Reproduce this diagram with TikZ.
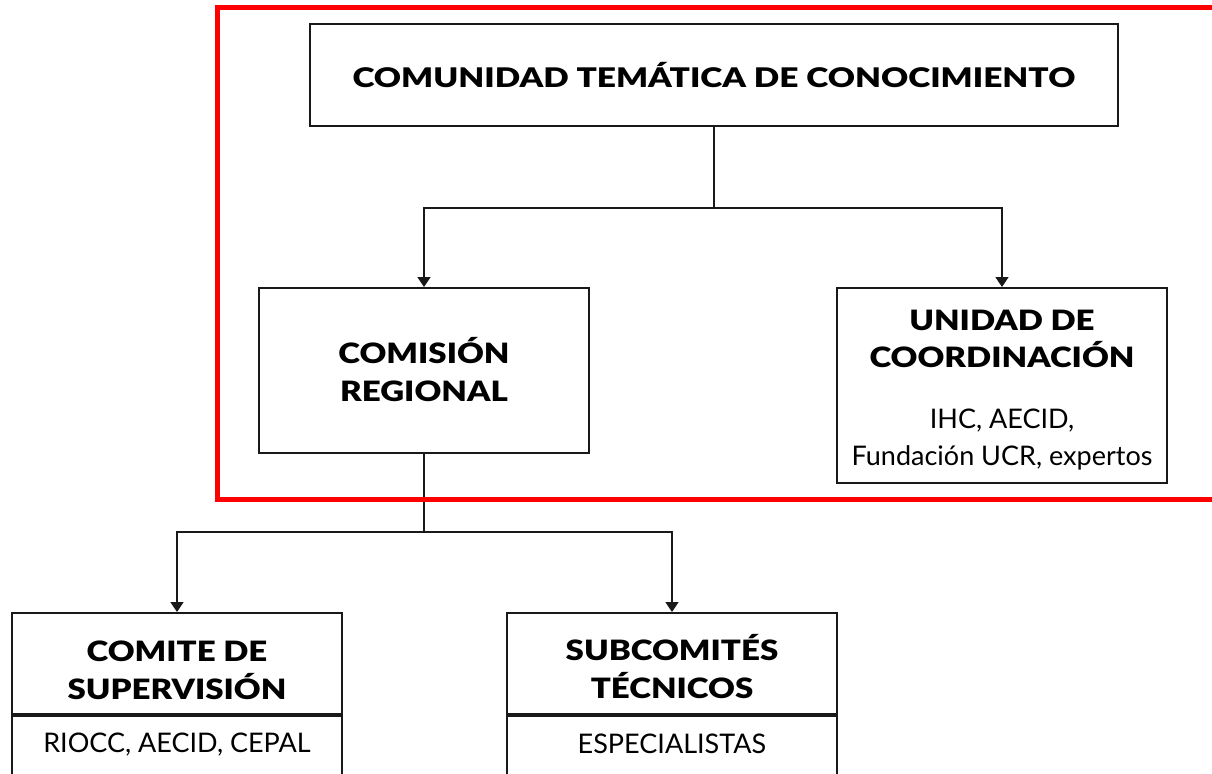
\documentclass[tikz,border=0pt]{standalone}
\usepackage{fontspec}
\setmainfont{Lato}
\newfontfamily\headfont[FakeStretch=1.18]{Lato Black}
\newfontfamily\titlefont[FakeStretch=1.24]{Lato Black}
\usepackage{tikz}
\usetikzlibrary{arrows.meta}
\definecolor{framered}{RGB}{255,0,0}
\newcommand{\hd}{\headfont\fontsize{14}{18.5}\selectfont}
\newcommand{\bd}{\normalfont\fontsize{13.5}{18.5}\selectfont}
\tikzstyle{box}=[draw=black!90,line width=1pt,rectangle,minimum width=165pt,inner sep=0pt]
\tikzstyle{headtext}=[align=center,inner sep=0pt,font=\headfont\fontsize{14}{19}\selectfont]
\tikzstyle{bodytext}=[align=center,inner sep=0pt,font=\bd]
\tikzstyle{edge} = [draw,line width=0.9pt,black!90]
\tikzstyle{arrow} = [edge,-{Triangle[width=6.5pt,length=5pt]}]
\tikzstyle{frame} = [draw=framered,line width=2.5pt]

\begin{document}
\begin{tikzpicture}[x=0.5pt,y=-0.5pt]
        \useasboundingbox (0,0) rectangle (1212,773);
        \clip (0,0) rectangle (1212,773);
        % top level
        \node[box,minimum width=404pt,minimum height=51pt,
              font=\titlefont\fontsize{13.5}{17}\selectfont] (ctc) at (714,74.5)
              {COMUNIDAD TEMÁTICA DE CONOCIMIENTO};
        \node[box,minimum height=82.5pt] (creg) at (424,370.5) {};
        \node[headtext] (cregt) at (424,369.5) {COMISIÓN\\REGIONAL};
        \node[box,minimum height=97.5pt] (ucoord) at (1002,385.5) {};
        \node[bodytext] (ucoordt) at (1002,390)
              {\hd UNIDAD DE\\\hd COORDINACIÓN\\[12pt]
               \bd IHC, AECID,\\\bd Fundación UCR, expertos};
        % committees
        \node[box,minimum height=50.5pt] (csup) at (177,663.5) {};
        \node[headtext] (csupt) at (177,670.5) {COMITE DE\\SUPERVISIÓN};
        \node[box,minimum height=31pt,anchor=north] (csupm) at (csup.south) {};
        \node[bodytext] (csupmt) at (177,745) {RIOCC, AECID, CEPAL};
        \node[box,minimum height=50.5pt] (csub) at (672,663.5) {};
        \node[headtext] (csubt) at (672,666.5) {SUBCOMITÉS\\TÉCNICOS};
        \node[box,minimum height=31pt,anchor=north] (csubm) at (csub.south) {};
        \node[bodytext] (csubmt) at (672,744) {ESPECIALISTAS};
        % connectors
        \coordinate (j1) at (714,208);
        \coordinate (j2) at (424,532);
        \draw[edge] (ctc) -- (j1);
        \draw[arrow] (j1) -| (creg);
        \draw[arrow] (j1) -| (ucoord);
        \draw[edge] (creg) -- (j2);
        \draw[arrow] (j2) -| (csup);
        \draw[arrow] (j2) -| (csub);
        % highlight
        \draw[frame] (217.5,7) rectangle (1240,499.5);
\end{tikzpicture}
\end{document}
